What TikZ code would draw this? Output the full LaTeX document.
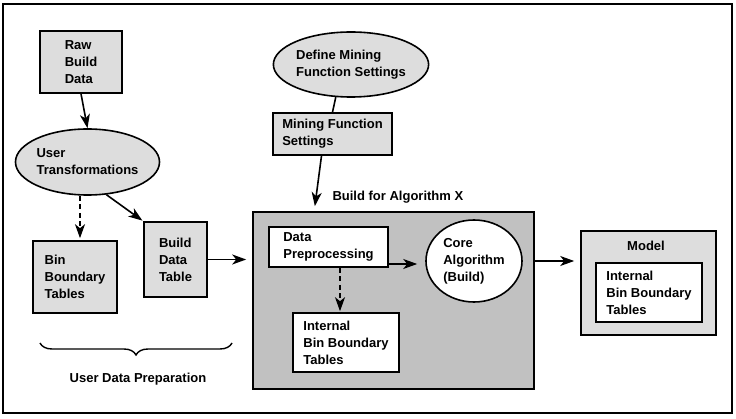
\documentclass[tikz,border=0pt]{standalone}
\usepackage{fontspec}
\setmainfont{Liberation Sans}
\usetikzlibrary{arrows.meta,shapes.geometric,decorations.pathreplacing}
\definecolor{lightfill}{RGB}{221,221,221}
\definecolor{darkfill}{RGB}{193,193,193}
\begin{document}
\begin{tikzpicture}[x=1pt,y=-1pt,
  every node/.style={font=\fontsize{13}{17}\selectfont\bfseries, align=left},
  gbox/.style={draw, line width=1.6pt, fill=lightfill, rectangle, inner sep=0pt},
  wbox/.style={draw, line width=1.6pt, fill=white, rectangle, inner sep=0pt},
  gell/.style={draw, line width=1.6pt, fill=lightfill, ellipse, inner sep=0pt},
  wcirc/.style={draw, line width=1.6pt, fill=white, ellipse, inner sep=0pt},
  arr/.style={line width=1.6pt, -{Stealth[length=14pt,width=10pt,inset=4pt]}},
  dasharr/.style={arr, dash pattern=on 5pt off 3.5pt},
  plainline/.style={line width=1.6pt}
]
\useasboundingbox (0,0) rectangle (736,419);
\draw[line width=1.8pt] (3,4) rectangle (732,413);

% left column
\node[gbox, minimum width=82, minimum height=62] (raw) at (81,62) {Raw\\Build\\Data};
\node[gell, minimum width=143, minimum height=66] (ut) at (87.5,162) {User\\Transformations};
\node[gbox, minimum width=84, minimum height=72] (bin) at (75,277) {Bin\\Boundary\\Tables};
\node[gbox, minimum width=63, minimum height=75] (bdt) at (175.5,259.5) {Build\\Data\\Table};

\coordinate (brL) at (40,343);
\coordinate (brR) at (232,343);
\draw[line width=1.4pt, decorate, decoration={brace, mirror, amplitude=12pt}] (brL) -- (brR);
\node (udp) at (138,379) {User Data Preparation};

% mining settings
\node[gell, minimum width=142, minimum height=65] (dm) at (351,64.5) {Define Mining\\Function Settings};
\node[gbox, minimum width=119, minimum height=42] (mfs) at (332.5,134) {Mining Function\\Settings};

% main build box
\node[rectangle, draw, line width=1.6pt, fill=darkfill, minimum width=281, minimum height=177] (main) at (393.5,300.5) {};
\node[anchor=west] (bfa) at (329,197) {Build for Algorithm X};
\node[wbox, minimum width=119, minimum height=40] (dp) at (328.5,247) {Data\\Preprocessing};
\node[wcirc, minimum width=96, minimum height=82] (core) at (474,261) {Core\\Algorithm\\(Build)};
\node[wbox, minimum width=106, minimum height=59] (ibt) at (346,342.5) {Internal\\Bin Boundary\\Tables};

% model
\node[gbox, minimum width=135, minimum height=104] (model) at (648.5,283) {};
\node (mlabel) at (646,246) {Model};
\node[wbox, minimum width=106, minimum height=59] (ibt2) at (649,292.5) {Internal\\Bin Boundary\\Tables};

% connectors
\draw[arr] (raw.south) -- (ut.north);
\draw[dasharr, shorten >=2pt] ([xshift=5]bin.north |- ut.south) -- ([xshift=5]bin.north);
\draw[arr, shorten >=1pt] (ut.300) -- (bdt.north west);
\draw[arr, shorten >=6pt] (bdt.east) -- (bdt.east -| main.west);
\draw[plainline] (dm.245) -- (mfs.north);
\draw[arr, shorten >=5pt] ([xshift=-11]mfs.south) -- ([xshift=62]main.north west);
\draw[arr, shorten >=8pt] ([yshift=-3]core.west -| dp.east) -- ([yshift=-3]core.west);
\draw[dasharr, shorten >=1pt] ([xshift=-6]ibt.north |- dp.south) -- ([xshift=-6]ibt.north);
\draw[arr, shorten >=6pt] (core.east -| main.east) -- (core.east -| model.west);
\end{tikzpicture}
\end{document}
